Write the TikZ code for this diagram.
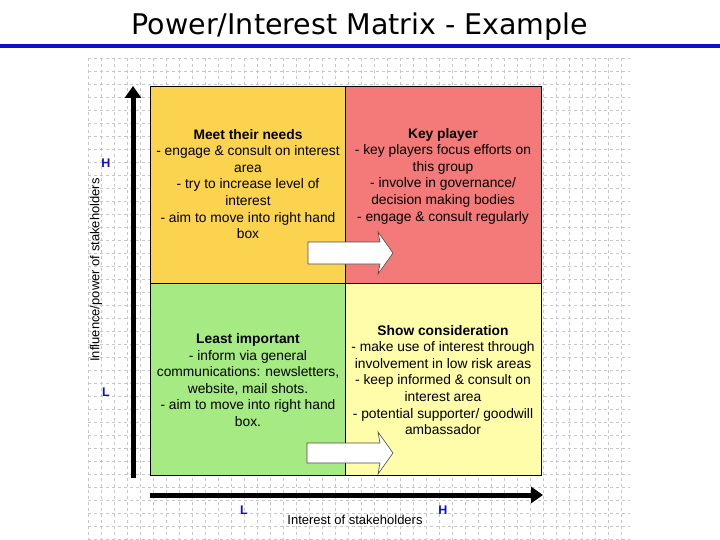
\documentclass[tikz,border=0pt]{standalone}
\usepackage{fontspec}
\setmainfont{Liberation Sans}
\newfontfamily\titlefont{DejaVu Sans}
\usetikzlibrary{arrows.meta}
\definecolor{cyel}{HTML}{FCD34F}
\definecolor{cred}{HTML}{F37A78}
\definecolor{cgrn}{HTML}{A6EA83}
\definecolor{clye}{HTML}{FFFDAA}
\definecolor{hblue}{HTML}{1010C8}
\begin{document}
\begin{tikzpicture}[x=1pt,y=-1pt,
  quad/.style={draw=black,line width=1pt},
  qtext/.style={align=center,font=\fontsize{13.8}{16.6}\selectfont},
  hl/.style={text=hblue,font=\bfseries\fontsize{12.5}{14}\selectfont},
  axis/.style={line width=5pt,-{Triangle[length=12pt,width=16pt]}},
  blockarrow/.style={draw=black!70,fill=white,line width=0.6pt}]
\useasboundingbox (0,0) rectangle (720,540);
\fill[white] (0,0) rectangle (720,540);
% grid
\foreach \gx in {88,101,...,630} \draw[black!22,dashed,line width=0.4pt] (\gx,58) -- (\gx,540);
\foreach \gy in {58,71,...,540} \draw[black!22,dashed,line width=0.4pt] (88,\gy) -- (630,\gy);
% title
\node (title) at (360,27) {\titlefont\fontsize{28.5}{32}\selectfont Power/Interest Matrix - Example};
\draw[hblue,line width=3.5pt] (0,46) -- (720,46);
% quadrants
\fill[cyel] (150,87) rectangle (345,283);
\fill[cred] (345,87) rectangle (541,283);
\fill[cgrn] (150,283) rectangle (345,475);
\fill[clye] (345,283) rectangle (541,475);
\draw[quad] (150,87) rectangle (541,475);
\draw[line width=0.6pt] (345,87) -- (345,475) (150,283) -- (541,283);
% texts
\node[qtext] (q1) at (248,184) {\textbf{Meet their needs}\\- engage \& consult on interest\\area\\- try to increase level of\\interest\\- aim to move into right hand\\box};
\node[qtext] (q2) at (443,176) {\textbf{Key player}\\- key players focus efforts on\\this group\\- involve in governance/\\decision making bodies\\- engage \& consult regularly};
\node[qtext] (q3) at (248,380) {\textbf{Least important}\\- inform via general\\communications: newsletters,\\website, mail shots.\\- aim to move into right hand\\box.};
\node[qtext] (q4) at (443,380) {\textbf{Show consideration}\\- make use of interest through\\involvement in low risk areas\\- keep informed \& consult on\\interest area\\- potential supporter/ goodwill\\ambassador};
% block arrows
\draw[blockarrow] (308,242) -- (380,242) -- (378,232) -- (393,253) -- (378,274) -- (380,264) -- (308,264) -- cycle;
\draw[blockarrow] (307,443) -- (380,443) -- (378,432) -- (393,453) -- (378,474) -- (380,463) -- (307,463) -- cycle;
% axes
\coordinate (vs) at (133,478);
\coordinate (ve) at (133,86);
\coordinate (hs) at (150,495);
\coordinate (he) at (543,495);
\draw[axis] (vs) -- (ve);
\draw[axis] (hs) -- (he);
\node[hl] (vh) at (106,163) {H};
\node[hl] (vl) at (106,392) {L};
\node[hl] (hl1) at (244,510) {L};
\node[hl] (hh) at (443,510) {H};
\node[rotate=90,font=\fontsize{13}{14}\selectfont] (vlab) at (96,270) {Influence/power of stakeholders};
\node[font=\fontsize{13}{14}\selectfont] (hlab) at (355,520) {Interest of stakeholders};
\end{tikzpicture}
\end{document}
